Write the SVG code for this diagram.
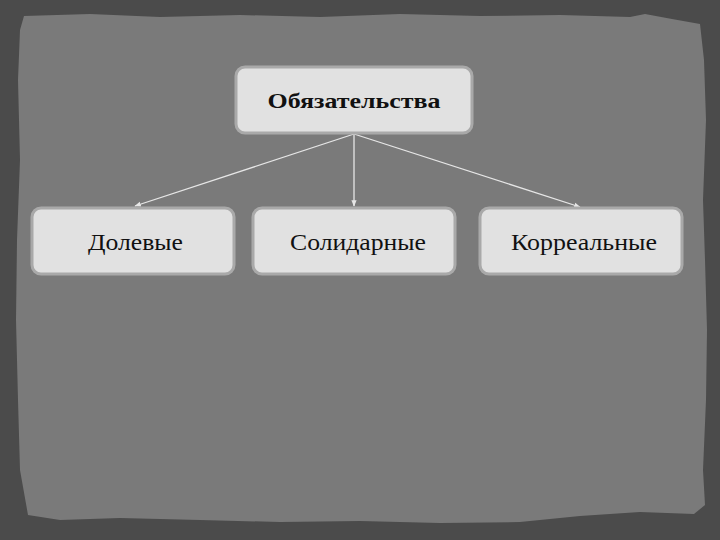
<svg xmlns="http://www.w3.org/2000/svg" width="720" height="540" viewBox="0 0 720 540">
<defs>
<style>
.box{fill:#e1e1e1;stroke:#a9a9a9;stroke-width:3}
.t{font-family:"Liberation Serif","DejaVu Serif",serif;font-size:23px;fill:#111;text-anchor:middle}
.tb{font-family:"Liberation Serif","DejaVu Serif",serif;font-size:21px;font-weight:bold;fill:#111;text-anchor:middle}
.ln{stroke:#e6e6e6;stroke-width:1.3;fill:none;marker-end:url(#ah)}
</style>
<marker id="ah" viewBox="0 0 10 10" refX="9" refY="5" markerWidth="5" markerHeight="5" orient="auto">
<path d="M0,1 L10,5 L0,9 z" fill="#e6e6e6"/>
</marker>
</defs>
<rect width="720" height="540" fill="#4b4b4b"/>
<path d="M24,16 L90,14 L160,17 L240,15 L320,17 L400,14 L480,16 L560,15 L630,17 L645,14 L672,19 L700,24 L704,60 L706,120 L703,200 L705,260 L707,330 L706,400 L703,470 L705,505 L694,514 L640,512 L580,516 L520,522 L440,523 L360,521 L280,522 L200,520 L120,518 L60,520 L28,515 L20,470 L18,400 L16,320 L17,240 L20,160 L18,80 L20,30 Z" fill="#7a7a7a"/>
<g id="connectors">
<line class="ln" x1="354" y1="134" x2="135" y2="206"/>
<line class="ln" x1="354" y1="134" x2="354" y2="206"/>
<line class="ln" x1="354" y1="134" x2="580" y2="207"/>
</g>
<g id="n0">
<rect class="box" x="236" y="67" width="236" height="66" rx="9"/>
<text class="tb" x="354" y="108" textLength="173" lengthAdjust="spacingAndGlyphs">Обязательства</text>
</g>
<g id="n1">
<rect class="box" x="32" y="208" width="202" height="66" rx="9"/>
<text class="t" x="135.500" y="250" textLength="95" lengthAdjust="spacingAndGlyphs">Долевые</text>
</g>
<g id="n2">
<rect class="box" x="253" y="208" width="202" height="66" rx="9"/>
<text class="t" x="358" y="250" textLength="136" lengthAdjust="spacingAndGlyphs">Солидарные</text>
</g>
<g id="n3">
<rect class="box" x="480" y="208" width="202" height="66" rx="9"/>
<text class="t" x="584" y="250" textLength="146" lengthAdjust="spacingAndGlyphs">Корреальные</text>
</g>
</svg>
